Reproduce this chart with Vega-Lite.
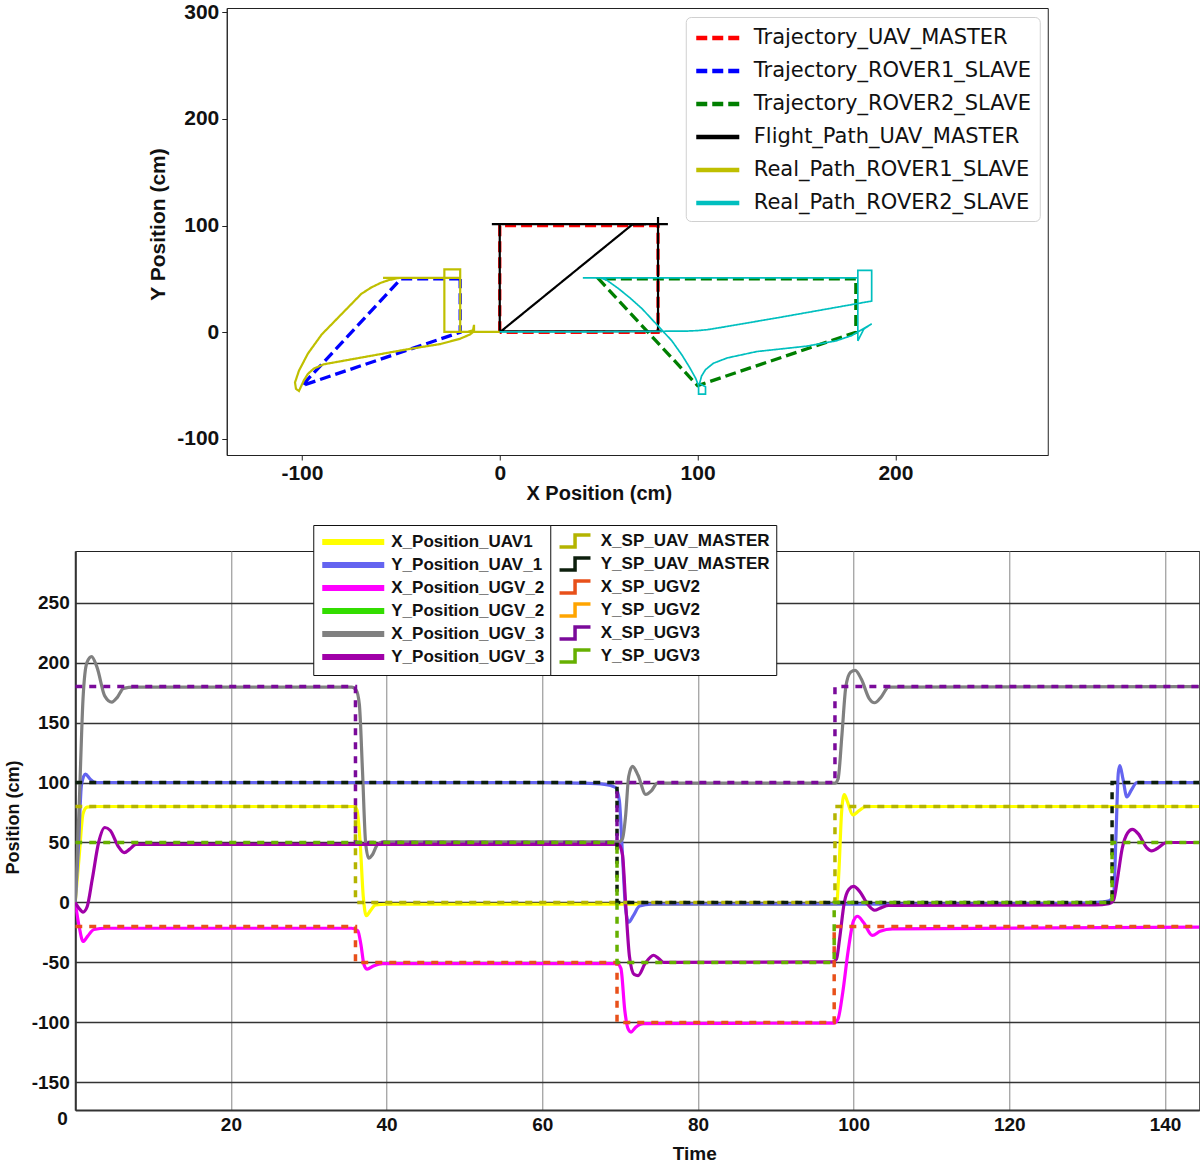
{
  "$schema": "https://vega.github.io/schema/vega-lite/v6.json",
  "padding": {"left": 3, "top": 0, "right": 0, "bottom": 0},
  "background": "white",
  "center": true,
  "spacing": 20,
  "resolve": {"scale": {"color": "independent", "stroke": "independent", "strokeDash": "independent"}, "legend": {"color": "independent", "stroke": "independent", "strokeDash": "independent"}},
  "config": {"view": {"stroke": "#222", "strokeWidth": 1}},
  "datasets": {
    "xy": [
      {"s": "Trajectory_UAV_MASTER", "i": 0, "x": 0, "y": 0},
      {"s": "Trajectory_UAV_MASTER", "i": 1, "x": 0, "y": 100},
      {"s": "Trajectory_UAV_MASTER", "i": 2, "x": 80, "y": 100},
      {"s": "Trajectory_UAV_MASTER", "i": 3, "x": 80, "y": 0},
      {"s": "Trajectory_UAV_MASTER", "i": 4, "x": 0, "y": 0},
      {"s": "Trajectory_ROVER1_SLAVE", "i": 0, "x": -20, "y": 50},
      {"s": "Trajectory_ROVER1_SLAVE", "i": 1, "x": -50, "y": 50},
      {"s": "Trajectory_ROVER1_SLAVE", "i": 2, "x": -100, "y": -50},
      {"s": "Trajectory_ROVER1_SLAVE", "i": 3, "x": -20, "y": 0},
      {"s": "Trajectory_ROVER1_SLAVE", "i": 4, "x": -20, "y": 50},
      {"s": "Trajectory_ROVER2_SLAVE", "i": 0, "x": 180, "y": 50},
      {"s": "Trajectory_ROVER2_SLAVE", "i": 1, "x": 50, "y": 50},
      {"s": "Trajectory_ROVER2_SLAVE", "i": 2, "x": 100, "y": -50},
      {"s": "Trajectory_ROVER2_SLAVE", "i": 3, "x": 180, "y": 0},
      {"s": "Trajectory_ROVER2_SLAVE", "i": 4, "x": 180, "y": 50},
      {"s": "Flight_Path_UAV_MASTER", "i": 0, "x": 0, "y": 0},
      {"s": "Flight_Path_UAV_MASTER", "i": 1, "x": 67, "y": 101},
      {"s": "Flight_Path_UAV_MASTER", "i": 2, "x": 80, "y": 101.5},
      {"s": "Flight_Path_UAV_MASTER", "i": 3, "x": 85, "y": 101.5},
      {"s": "Flight_Path_UAV_MASTER", "i": 4, "x": 80, "y": 101.5},
      {"s": "Flight_Path_UAV_MASTER", "i": 5, "x": 0, "y": 101.5},
      {"s": "Flight_Path_UAV_MASTER", "i": 6, "x": -4, "y": 101.5},
      {"s": "Flight_Path_UAV_MASTER", "i": 7, "x": 0, "y": 101.5},
      {"s": "Flight_Path_UAV_MASTER", "i": 8, "x": 0, "y": 1},
      {"s": "Flight_Path_UAV_MASTER", "i": 9, "x": 82, "y": 1},
      {"s": "Flight_Path_UAV_MASTER", "i": 10, "x": 80, "y": 1},
      {"s": "Flight_Path_UAV_MASTER", "i": 11, "x": 80, "y": 108},
      {"s": "Flight_Path_UAV_MASTER", "i": 12, "x": 80, "y": 101.5},
      {"s": "Real_Path_ROVER1_SLAVE", "i": 0, "x": 0, "y": 0.5},
      {"s": "Real_Path_ROVER1_SLAVE", "i": 1, "x": -13, "y": 0.5},
      {"s": "Real_Path_ROVER1_SLAVE", "i": 2, "x": -28, "y": 0.5},
      {"s": "Real_Path_ROVER1_SLAVE", "i": 3, "x": -28, "y": 59},
      {"s": "Real_Path_ROVER1_SLAVE", "i": 4, "x": -20, "y": 59},
      {"s": "Real_Path_ROVER1_SLAVE", "i": 5, "x": -20, "y": 51},
      {"s": "Real_Path_ROVER1_SLAVE", "i": 6, "x": -59, "y": 51},
      {"s": "Real_Path_ROVER1_SLAVE", "i": 7, "x": -51, "y": 51},
      {"s": "Real_Path_ROVER1_SLAVE", "i": 8, "x": -56, "y": 49},
      {"s": "Real_Path_ROVER1_SLAVE", "i": 9, "x": -60, "y": 46.5},
      {"s": "Real_Path_ROVER1_SLAVE", "i": 10, "x": -65, "y": 42},
      {"s": "Real_Path_ROVER1_SLAVE", "i": 11, "x": -70, "y": 36},
      {"s": "Real_Path_ROVER1_SLAVE", "i": 12, "x": -80, "y": 17},
      {"s": "Real_Path_ROVER1_SLAVE", "i": 13, "x": -90, "y": -2},
      {"s": "Real_Path_ROVER1_SLAVE", "i": 14, "x": -97, "y": -20},
      {"s": "Real_Path_ROVER1_SLAVE", "i": 15, "x": -101.5, "y": -36},
      {"s": "Real_Path_ROVER1_SLAVE", "i": 16, "x": -103.5, "y": -47},
      {"s": "Real_Path_ROVER1_SLAVE", "i": 17, "x": -103, "y": -53},
      {"s": "Real_Path_ROVER1_SLAVE", "i": 18, "x": -101.5, "y": -55},
      {"s": "Real_Path_ROVER1_SLAVE", "i": 19, "x": -100.5, "y": -51},
      {"s": "Real_Path_ROVER1_SLAVE", "i": 20, "x": -99, "y": -45},
      {"s": "Real_Path_ROVER1_SLAVE", "i": 21, "x": -97, "y": -39},
      {"s": "Real_Path_ROVER1_SLAVE", "i": 22, "x": -94, "y": -34},
      {"s": "Real_Path_ROVER1_SLAVE", "i": 23, "x": -89, "y": -30},
      {"s": "Real_Path_ROVER1_SLAVE", "i": 24, "x": -80, "y": -27},
      {"s": "Real_Path_ROVER1_SLAVE", "i": 25, "x": -65, "y": -22},
      {"s": "Real_Path_ROVER1_SLAVE", "i": 26, "x": -47, "y": -16},
      {"s": "Real_Path_ROVER1_SLAVE", "i": 27, "x": -30, "y": -11},
      {"s": "Real_Path_ROVER1_SLAVE", "i": 28, "x": -20, "y": -6},
      {"s": "Real_Path_ROVER1_SLAVE", "i": 29, "x": -15, "y": -2},
      {"s": "Real_Path_ROVER1_SLAVE", "i": 30, "x": -13, "y": 1},
      {"s": "Real_Path_ROVER1_SLAVE", "i": 31, "x": -13, "y": 7},
      {"s": "Real_Path_ROVER1_SLAVE", "i": 32, "x": -13.5, "y": 2},
      {"s": "Real_Path_ROVER1_SLAVE", "i": 33, "x": -16, "y": 0.5},
      {"s": "Real_Path_ROVER1_SLAVE", "i": 34, "x": -20, "y": 0.5},
      {"s": "Real_Path_ROVER1_SLAVE", "i": 35, "x": -20, "y": 30},
      {"s": "Real_Path_ROVER1_SLAVE", "i": 36, "x": -20, "y": 59},
      {"s": "Real_Path_ROVER1_SLAVE", "i": 37, "x": -20, "y": 51},
      {"s": "Real_Path_ROVER2_SLAVE", "i": 0, "x": 0, "y": 0.5},
      {"s": "Real_Path_ROVER2_SLAVE", "i": 1, "x": 50, "y": 0.5},
      {"s": "Real_Path_ROVER2_SLAVE", "i": 2, "x": 82, "y": 1},
      {"s": "Real_Path_ROVER2_SLAVE", "i": 3, "x": 95, "y": 1.2},
      {"s": "Real_Path_ROVER2_SLAVE", "i": 4, "x": 100, "y": 1.6},
      {"s": "Real_Path_ROVER2_SLAVE", "i": 5, "x": 105, "y": 2.5},
      {"s": "Real_Path_ROVER2_SLAVE", "i": 6, "x": 112, "y": 4.6},
      {"s": "Real_Path_ROVER2_SLAVE", "i": 7, "x": 140, "y": 13.5},
      {"s": "Real_Path_ROVER2_SLAVE", "i": 8, "x": 181, "y": 27},
      {"s": "Real_Path_ROVER2_SLAVE", "i": 9, "x": 188, "y": 29.3},
      {"s": "Real_Path_ROVER2_SLAVE", "i": 10, "x": 188, "y": 58},
      {"s": "Real_Path_ROVER2_SLAVE", "i": 11, "x": 181, "y": 58},
      {"s": "Real_Path_ROVER2_SLAVE", "i": 12, "x": 181, "y": 51},
      {"s": "Real_Path_ROVER2_SLAVE", "i": 13, "x": 42, "y": 51},
      {"s": "Real_Path_ROVER2_SLAVE", "i": 14, "x": 51, "y": 51},
      {"s": "Real_Path_ROVER2_SLAVE", "i": 15, "x": 54, "y": 49},
      {"s": "Real_Path_ROVER2_SLAVE", "i": 16, "x": 60, "y": 41},
      {"s": "Real_Path_ROVER2_SLAVE", "i": 17, "x": 66, "y": 32},
      {"s": "Real_Path_ROVER2_SLAVE", "i": 18, "x": 72, "y": 22},
      {"s": "Real_Path_ROVER2_SLAVE", "i": 19, "x": 80, "y": 6},
      {"s": "Real_Path_ROVER2_SLAVE", "i": 20, "x": 87, "y": -8},
      {"s": "Real_Path_ROVER2_SLAVE", "i": 21, "x": 92, "y": -21},
      {"s": "Real_Path_ROVER2_SLAVE", "i": 22, "x": 96, "y": -33},
      {"s": "Real_Path_ROVER2_SLAVE", "i": 23, "x": 99, "y": -43},
      {"s": "Real_Path_ROVER2_SLAVE", "i": 24, "x": 100.5, "y": -50},
      {"s": "Real_Path_ROVER2_SLAVE", "i": 25, "x": 100.5, "y": -58},
      {"s": "Real_Path_ROVER2_SLAVE", "i": 26, "x": 104, "y": -58},
      {"s": "Real_Path_ROVER2_SLAVE", "i": 27, "x": 104, "y": -51},
      {"s": "Real_Path_ROVER2_SLAVE", "i": 28, "x": 101, "y": -48},
      {"s": "Real_Path_ROVER2_SLAVE", "i": 29, "x": 102, "y": -41},
      {"s": "Real_Path_ROVER2_SLAVE", "i": 30, "x": 104, "y": -35},
      {"s": "Real_Path_ROVER2_SLAVE", "i": 31, "x": 108, "y": -29},
      {"s": "Real_Path_ROVER2_SLAVE", "i": 32, "x": 115, "y": -24},
      {"s": "Real_Path_ROVER2_SLAVE", "i": 33, "x": 130, "y": -18},
      {"s": "Real_Path_ROVER2_SLAVE", "i": 34, "x": 155, "y": -13},
      {"s": "Real_Path_ROVER2_SLAVE", "i": 35, "x": 170, "y": -8},
      {"s": "Real_Path_ROVER2_SLAVE", "i": 36, "x": 178, "y": -3},
      {"s": "Real_Path_ROVER2_SLAVE", "i": 37, "x": 188, "y": 8},
      {"s": "Real_Path_ROVER2_SLAVE", "i": 38, "x": 184, "y": 3},
      {"s": "Real_Path_ROVER2_SLAVE", "i": 39, "x": 181, "y": -8},
      {"s": "Real_Path_ROVER2_SLAVE", "i": 40, "x": 181, "y": 20},
      {"s": "Real_Path_ROVER2_SLAVE", "i": 41, "x": 181, "y": 51}
    ],
    "ts": [
      {"s": "X_Position_UAV1", "t": 0, "v": 0},
      {"s": "X_Position_UAV1", "t": 0.5, "v": 38},
      {"s": "X_Position_UAV1", "t": 1.0, "v": 74},
      {"s": "X_Position_UAV1", "t": 1.5, "v": 79.5},
      {"s": "X_Position_UAV1", "t": 2.5, "v": 80},
      {"s": "X_Position_UAV1", "t": 35.8, "v": 80},
      {"s": "X_Position_UAV1", "t": 36.2, "v": 77},
      {"s": "X_Position_UAV1", "t": 36.6, "v": 50},
      {"s": "X_Position_UAV1", "t": 37.0, "v": 5},
      {"s": "X_Position_UAV1", "t": 37.4, "v": -11},
      {"s": "X_Position_UAV1", "t": 37.9, "v": -7},
      {"s": "X_Position_UAV1", "t": 38.6, "v": -2},
      {"s": "X_Position_UAV1", "t": 40, "v": -1.5},
      {"s": "X_Position_UAV1", "t": 97.8, "v": -1.5},
      {"s": "X_Position_UAV1", "t": 98.1, "v": 25},
      {"s": "X_Position_UAV1", "t": 98.45, "v": 75},
      {"s": "X_Position_UAV1", "t": 98.8, "v": 90},
      {"s": "X_Position_UAV1", "t": 99.2, "v": 84},
      {"s": "X_Position_UAV1", "t": 99.9, "v": 73},
      {"s": "X_Position_UAV1", "t": 100.7, "v": 76.5},
      {"s": "X_Position_UAV1", "t": 101.6, "v": 80},
      {"s": "X_Position_UAV1", "t": 144.4, "v": 80},
      {"s": "Y_Position_UAV_1", "t": 0, "v": 0},
      {"s": "Y_Position_UAV_1", "t": 0.4, "v": 45},
      {"s": "Y_Position_UAV_1", "t": 0.8, "v": 98},
      {"s": "Y_Position_UAV_1", "t": 1.3, "v": 107},
      {"s": "Y_Position_UAV_1", "t": 1.9, "v": 103},
      {"s": "Y_Position_UAV_1", "t": 2.6, "v": 100},
      {"s": "Y_Position_UAV_1", "t": 60, "v": 100},
      {"s": "Y_Position_UAV_1", "t": 65, "v": 99.5},
      {"s": "Y_Position_UAV_1", "t": 68, "v": 98.5},
      {"s": "Y_Position_UAV_1", "t": 69.4, "v": 96},
      {"s": "Y_Position_UAV_1", "t": 69.9, "v": 85},
      {"s": "Y_Position_UAV_1", "t": 70.3, "v": 40},
      {"s": "Y_Position_UAV_1", "t": 70.7, "v": -5},
      {"s": "Y_Position_UAV_1", "t": 71.1, "v": -16.5},
      {"s": "Y_Position_UAV_1", "t": 71.7, "v": -11},
      {"s": "Y_Position_UAV_1", "t": 72.5, "v": -3},
      {"s": "Y_Position_UAV_1", "t": 74, "v": -1.5},
      {"s": "Y_Position_UAV_1", "t": 100, "v": -1.5},
      {"s": "Y_Position_UAV_1", "t": 127, "v": -1},
      {"s": "Y_Position_UAV_1", "t": 131, "v": 0},
      {"s": "Y_Position_UAV_1", "t": 132.8, "v": 1.5},
      {"s": "Y_Position_UAV_1", "t": 133.4, "v": 6},
      {"s": "Y_Position_UAV_1", "t": 133.7, "v": 55},
      {"s": "Y_Position_UAV_1", "t": 134.0, "v": 108},
      {"s": "Y_Position_UAV_1", "t": 134.2, "v": 114},
      {"s": "Y_Position_UAV_1", "t": 134.6, "v": 103},
      {"s": "Y_Position_UAV_1", "t": 135.1, "v": 88},
      {"s": "Y_Position_UAV_1", "t": 135.7, "v": 94},
      {"s": "Y_Position_UAV_1", "t": 136.4, "v": 100},
      {"s": "Y_Position_UAV_1", "t": 144.4, "v": 100},
      {"s": "X_Position_UGV_2", "t": 0, "v": 0},
      {"s": "X_Position_UGV_2", "t": 0.5, "v": -20},
      {"s": "X_Position_UGV_2", "t": 1.0, "v": -32.5},
      {"s": "X_Position_UGV_2", "t": 1.6, "v": -28},
      {"s": "X_Position_UGV_2", "t": 2.4, "v": -22.5},
      {"s": "X_Position_UGV_2", "t": 4, "v": -21.5},
      {"s": "X_Position_UGV_2", "t": 35.5, "v": -21.5},
      {"s": "X_Position_UGV_2", "t": 36.3, "v": -23.5},
      {"s": "X_Position_UGV_2", "t": 36.7, "v": -35},
      {"s": "X_Position_UGV_2", "t": 37.1, "v": -52},
      {"s": "X_Position_UGV_2", "t": 37.5, "v": -55.5},
      {"s": "X_Position_UGV_2", "t": 38.3, "v": -53},
      {"s": "X_Position_UGV_2", "t": 39.5, "v": -51},
      {"s": "X_Position_UGV_2", "t": 69.6, "v": -51},
      {"s": "X_Position_UGV_2", "t": 70.1, "v": -55},
      {"s": "X_Position_UGV_2", "t": 70.6, "v": -90},
      {"s": "X_Position_UGV_2", "t": 71.0, "v": -105},
      {"s": "X_Position_UGV_2", "t": 71.4, "v": -108},
      {"s": "X_Position_UGV_2", "t": 72.0, "v": -104},
      {"s": "X_Position_UGV_2", "t": 73, "v": -101},
      {"s": "X_Position_UGV_2", "t": 97.5, "v": -100.5},
      {"s": "X_Position_UGV_2", "t": 98.0, "v": -97},
      {"s": "X_Position_UGV_2", "t": 98.6, "v": -75},
      {"s": "X_Position_UGV_2", "t": 99.3, "v": -40},
      {"s": "X_Position_UGV_2", "t": 100.0, "v": -15},
      {"s": "X_Position_UGV_2", "t": 100.5, "v": -11.5},
      {"s": "X_Position_UGV_2", "t": 101.3, "v": -17},
      {"s": "X_Position_UGV_2", "t": 102.4, "v": -27.5},
      {"s": "X_Position_UGV_2", "t": 103.4, "v": -24},
      {"s": "X_Position_UGV_2", "t": 105, "v": -22},
      {"s": "X_Position_UGV_2", "t": 144.4, "v": -20.5},
      {"s": "X_Position_UGV_3", "t": 0, "v": 0},
      {"s": "X_Position_UGV_3", "t": 0.5, "v": 80},
      {"s": "X_Position_UGV_3", "t": 1.0, "v": 170},
      {"s": "X_Position_UGV_3", "t": 1.5, "v": 200},
      {"s": "X_Position_UGV_3", "t": 2.1, "v": 205},
      {"s": "X_Position_UGV_3", "t": 2.8, "v": 196},
      {"s": "X_Position_UGV_3", "t": 3.8, "v": 172},
      {"s": "X_Position_UGV_3", "t": 4.7, "v": 167},
      {"s": "X_Position_UGV_3", "t": 5.4, "v": 171},
      {"s": "X_Position_UGV_3", "t": 6.2, "v": 178.5},
      {"s": "X_Position_UGV_3", "t": 7.5, "v": 179.5},
      {"s": "X_Position_UGV_3", "t": 35.5, "v": 179.5},
      {"s": "X_Position_UGV_3", "t": 36.1, "v": 177},
      {"s": "X_Position_UGV_3", "t": 36.5, "v": 165},
      {"s": "X_Position_UGV_3", "t": 36.9, "v": 110},
      {"s": "X_Position_UGV_3", "t": 37.3, "v": 50},
      {"s": "X_Position_UGV_3", "t": 37.7, "v": 37},
      {"s": "X_Position_UGV_3", "t": 38.2, "v": 40},
      {"s": "X_Position_UGV_3", "t": 38.8, "v": 48},
      {"s": "X_Position_UGV_3", "t": 39.6, "v": 50.5},
      {"s": "X_Position_UGV_3", "t": 69.8, "v": 50.5},
      {"s": "X_Position_UGV_3", "t": 70.3, "v": 53},
      {"s": "X_Position_UGV_3", "t": 70.7, "v": 72},
      {"s": "X_Position_UGV_3", "t": 71.1, "v": 105},
      {"s": "X_Position_UGV_3", "t": 71.6, "v": 113.5},
      {"s": "X_Position_UGV_3", "t": 72.3, "v": 106},
      {"s": "X_Position_UGV_3", "t": 73.3, "v": 90},
      {"s": "X_Position_UGV_3", "t": 74.0, "v": 93},
      {"s": "X_Position_UGV_3", "t": 74.8, "v": 99.5},
      {"s": "X_Position_UGV_3", "t": 97.6, "v": 99.5},
      {"s": "X_Position_UGV_3", "t": 98.0, "v": 103},
      {"s": "X_Position_UGV_3", "t": 98.5, "v": 140},
      {"s": "X_Position_UGV_3", "t": 99.0, "v": 180},
      {"s": "X_Position_UGV_3", "t": 99.6, "v": 192},
      {"s": "X_Position_UGV_3", "t": 100.2, "v": 193.5},
      {"s": "X_Position_UGV_3", "t": 101, "v": 186},
      {"s": "X_Position_UGV_3", "t": 102.0, "v": 170},
      {"s": "X_Position_UGV_3", "t": 102.7, "v": 166.5},
      {"s": "X_Position_UGV_3", "t": 103.5, "v": 171},
      {"s": "X_Position_UGV_3", "t": 104.5, "v": 179.5},
      {"s": "X_Position_UGV_3", "t": 144.4, "v": 180},
      {"s": "Y_Position_UGV_3", "t": 0, "v": 0},
      {"s": "Y_Position_UGV_3", "t": 0.5, "v": -5},
      {"s": "Y_Position_UGV_3", "t": 1.0, "v": -8},
      {"s": "Y_Position_UGV_3", "t": 1.5, "v": -4},
      {"s": "Y_Position_UGV_3", "t": 2.2, "v": 20},
      {"s": "Y_Position_UGV_3", "t": 3.0, "v": 50},
      {"s": "Y_Position_UGV_3", "t": 3.8, "v": 62.5},
      {"s": "Y_Position_UGV_3", "t": 4.5, "v": 60},
      {"s": "Y_Position_UGV_3", "t": 5.5, "v": 47},
      {"s": "Y_Position_UGV_3", "t": 6.3, "v": 41.5},
      {"s": "Y_Position_UGV_3", "t": 7.0, "v": 44.5},
      {"s": "Y_Position_UGV_3", "t": 7.8, "v": 48.5},
      {"s": "Y_Position_UGV_3", "t": 36, "v": 48.5},
      {"s": "Y_Position_UGV_3", "t": 69.8, "v": 48.5},
      {"s": "Y_Position_UGV_3", "t": 70.3, "v": 40},
      {"s": "Y_Position_UGV_3", "t": 70.7, "v": 0},
      {"s": "Y_Position_UGV_3", "t": 71.2, "v": -45},
      {"s": "Y_Position_UGV_3", "t": 71.8, "v": -60},
      {"s": "Y_Position_UGV_3", "t": 72.3, "v": -61},
      {"s": "Y_Position_UGV_3", "t": 73.2, "v": -51},
      {"s": "Y_Position_UGV_3", "t": 74.3, "v": -44},
      {"s": "Y_Position_UGV_3", "t": 75.0, "v": -47},
      {"s": "Y_Position_UGV_3", "t": 75.6, "v": -50},
      {"s": "Y_Position_UGV_3", "t": 97.3, "v": -49.5},
      {"s": "Y_Position_UGV_3", "t": 97.8, "v": -47},
      {"s": "Y_Position_UGV_3", "t": 98.2, "v": -30},
      {"s": "Y_Position_UGV_3", "t": 98.8, "v": 0},
      {"s": "Y_Position_UGV_3", "t": 99.4, "v": 11},
      {"s": "Y_Position_UGV_3", "t": 100, "v": 13.4},
      {"s": "Y_Position_UGV_3", "t": 100.8, "v": 9},
      {"s": "Y_Position_UGV_3", "t": 101.8, "v": -1.5},
      {"s": "Y_Position_UGV_3", "t": 102.7, "v": -6.5},
      {"s": "Y_Position_UGV_3", "t": 103.5, "v": -4.5},
      {"s": "Y_Position_UGV_3", "t": 104.5, "v": -2.5},
      {"s": "Y_Position_UGV_3", "t": 131, "v": -2},
      {"s": "Y_Position_UGV_3", "t": 132.8, "v": -1},
      {"s": "Y_Position_UGV_3", "t": 133.4, "v": 2},
      {"s": "Y_Position_UGV_3", "t": 133.9, "v": 20},
      {"s": "Y_Position_UGV_3", "t": 134.5, "v": 45},
      {"s": "Y_Position_UGV_3", "t": 135.2, "v": 58},
      {"s": "Y_Position_UGV_3", "t": 135.8, "v": 61},
      {"s": "Y_Position_UGV_3", "t": 136.6, "v": 57},
      {"s": "Y_Position_UGV_3", "t": 137.6, "v": 46},
      {"s": "Y_Position_UGV_3", "t": 138.3, "v": 43},
      {"s": "Y_Position_UGV_3", "t": 139.0, "v": 45},
      {"s": "Y_Position_UGV_3", "t": 140.2, "v": 50},
      {"s": "Y_Position_UGV_3", "t": 144.4, "v": 50}
    ],
    "sp": [
      {"s": "X_SP_UAV_MASTER", "t": 0, "v": 80},
      {"s": "X_SP_UAV_MASTER", "t": 36, "v": 0},
      {"s": "X_SP_UAV_MASTER", "t": 97.6, "v": 80},
      {"s": "X_SP_UAV_MASTER", "t": 144.4, "v": 80},
      {"s": "Y_SP_UAV_MASTER", "t": 0, "v": 100},
      {"s": "Y_SP_UAV_MASTER", "t": 69.6, "v": 0},
      {"s": "Y_SP_UAV_MASTER", "t": 133.2, "v": 100},
      {"s": "Y_SP_UAV_MASTER", "t": 144.4, "v": 100},
      {"s": "X_SP_UGV2", "t": 0, "v": -20},
      {"s": "X_SP_UGV2", "t": 36, "v": -50},
      {"s": "X_SP_UGV2", "t": 69.6, "v": -100},
      {"s": "X_SP_UGV2", "t": 97.5, "v": -20},
      {"s": "X_SP_UGV2", "t": 144.4, "v": -20},
      {"s": "X_SP_UGV3", "t": 0, "v": 180},
      {"s": "X_SP_UGV3", "t": 36, "v": 50},
      {"s": "X_SP_UGV3", "t": 69.6, "v": 100},
      {"s": "X_SP_UGV3", "t": 97.6, "v": 180},
      {"s": "X_SP_UGV3", "t": 144.4, "v": 180},
      {"s": "Y_SP_UGV3", "t": 0, "v": 50},
      {"s": "Y_SP_UGV3", "t": 69.6, "v": -50},
      {"s": "Y_SP_UGV3", "t": 97.5, "v": 0},
      {"s": "Y_SP_UGV3", "t": 133.2, "v": 50},
      {"s": "Y_SP_UGV3", "t": 144.4, "v": 50}
    ]
  },
  "vconcat": [
    {
      "width": 821,
      "height": 447,
      "data": {"name": "xy"},
      "encoding": {
        "x": {
          "field": "x", "type": "quantitative",
          "scale": {"domain": [-138, 277], "nice": false, "zero": false},
          "axis": {
            "title": "X Position (cm)", "values": [-100, 0, 100, 200], "grid": false,
            "labelExpr": "replace(datum.label, '\u2212', '-')",
            "labelFont": "Liberation Sans", "labelFontSize": 21, "labelFontWeight": "bold", "labelColor": "#111",
            "labelPadding": 2, "tickColor": "#222", "tickSize": 5, "domainColor": "#222",
            "titleFont": "Liberation Sans", "titleFontSize": 20, "titleFontWeight": "bold", "titleColor": "#111",
            "titlePadding": 0, "titleX": 372
          }
        },
        "y": {
          "field": "y", "type": "quantitative",
          "scale": {"domain": [-115, 304], "nice": false, "zero": false},
          "axis": {
            "title": "Y Position (cm)", "values": [-100, 0, 100, 200, 300], "grid": false,
            "labelExpr": "replace(datum.label, '\u2212', '-')",
            "labelFont": "Liberation Sans", "labelFontSize": 21, "labelFontWeight": "bold", "labelColor": "#111",
            "labelPadding": 3, "tickColor": "#222", "tickSize": 5, "domainColor": "#222",
            "titleFont": "Liberation Sans", "titleFontSize": 21, "titleFontWeight": "bold", "titleColor": "#111",
            "titlePadding": 8, "titleY": 216
          }
        },
        "color": {
          "field": "s", "type": "nominal",
          "scale": {
            "domain": ["Trajectory_UAV_MASTER", "Trajectory_ROVER1_SLAVE", "Trajectory_ROVER2_SLAVE", "Flight_Path_UAV_MASTER", "Real_Path_ROVER1_SLAVE", "Real_Path_ROVER2_SLAVE"],
            "range": ["#ff0000", "#0000ff", "#007f00", "#000000", "#bfbf00", "#00bfbf"]
          },
          "legend": {
            "title": null, "orient": "none", "legendX": 459, "legendY": 9,
            "symbolType": "M-1,0L3.1,0", "symbolSize": 441, "symbolStrokeWidth": 4.5,
            "labelFont": "DejaVu Sans", "labelFontSize": 21, "labelColor": "#111", "labelOffset": 34, "labelLimit": 400,
            "rowPadding": 10, "padding": 8, "fillColor": "white", "strokeColor": "#d0d0d0", "cornerRadius": 5
          }
        },
        "strokeDash": {
          "field": "s", "type": "nominal",
          "scale": {
            "domain": ["Trajectory_UAV_MASTER", "Trajectory_ROVER1_SLAVE", "Trajectory_ROVER2_SLAVE", "Flight_Path_UAV_MASTER", "Real_Path_ROVER1_SLAVE", "Real_Path_ROVER2_SLAVE"],
            "range": [[11, 5], [11, 5], [11, 5], [1, 0], [1, 0], [1, 0]]
          },
          "legend": {
            "title": null, "orient": "none", "legendX": 459, "legendY": 9,
            "symbolType": "M-1,0L3.1,0", "symbolSize": 441, "symbolStrokeWidth": 4.5,
            "labelFont": "DejaVu Sans", "labelFontSize": 21, "labelColor": "#111", "labelOffset": 34, "labelLimit": 400,
            "rowPadding": 10, "padding": 8, "fillColor": "white", "strokeColor": "#d0d0d0", "cornerRadius": 5
          }
        },
        "order": {"field": "i", "type": "quantitative"}
      },
      "layer": [
        {
          "transform": [{"filter": {"field": "s", "oneOf": ["Trajectory_UAV_MASTER", "Trajectory_ROVER1_SLAVE", "Trajectory_ROVER2_SLAVE"]}}],
          "mark": {"type": "line", "clip": true, "strokeWidth": 3.3}
        },
        {
          "transform": [{"filter": {"field": "s", "oneOf": ["Flight_Path_UAV_MASTER", "Real_Path_ROVER1_SLAVE"]}}],
          "mark": {"type": "line", "clip": true, "strokeWidth": 2.2}
        },
        {
          "transform": [{"filter": {"field": "s", "oneOf": ["Real_Path_ROVER2_SLAVE"]}}],
          "mark": {"type": "line", "clip": true, "strokeWidth": 1.7}
        }
      ]
    },
    {
      "width": 1124,
      "height": 559,
      "encoding": {
        "x": {
          "field": "t", "type": "quantitative",
          "scale": {"domain": [0, 144.4], "nice": false, "zero": false},
          "axis": {
            "title": "Time", "values": [0, 20, 40, 60, 80, 100, 120, 140],
            "grid": true, "gridColor": "#9a9a9a", "gridWidth": 1.2, "ticks": false,
            "labelFont": "Liberation Sans", "labelFontSize": 19, "labelFontWeight": "bold", "labelColor": "#111",
            "labelPadding": {"condition": {"test": "datum.value == 0", "value": -1}, "value": 5},
            "labelAlign": {"condition": {"test": "datum.value == 0", "value": "right"}, "value": "center"},
            "labelOffset": {"condition": {"test": "datum.value == 0", "value": -8}, "value": 0},
            "domainColor": "#333", "domainWidth": 2,
            "titleFont": "Liberation Sans", "titleFontSize": 19, "titleFontWeight": "bold", "titleColor": "#111",
            "titlePadding": 10, "titleX": 619
          }
        },
        "y": {
          "field": "v", "type": "quantitative",
          "scale": {"domain": [-173, 293], "nice": false, "zero": false},
          "axis": {
            "title": "Position (cm)", "values": [-150, -100, -50, 0, 50, 100, 150, 200, 250],
            "grid": true, "gridColor": "#333", "gridWidth": 1.5, "ticks": false,
            "labelExpr": "replace(datum.label, '\u2212', '-')",
            "labelFont": "Liberation Sans", "labelFontSize": 19, "labelFontWeight": "bold", "labelColor": "#111",
            "labelPadding": 6, "domainColor": "#333", "domainWidth": 2,
            "titleFont": "Liberation Sans", "titleFontSize": 18, "titleFontWeight": "bold", "titleColor": "#111",
            "titlePadding": 9, "titleY": 266
          }
        }
      },
      "layer": [
        {
          "data": {"name": "ts"},
          "mark": {"type": "line", "interpolate": "monotone", "strokeWidth": 3.2, "clip": true},
          "encoding": {
            "color": {
              "field": "s", "type": "nominal",
              "scale": {
                "domain": ["X_Position_UAV1", "Y_Position_UAV_1", "X_Position_UGV_2", "Y_Position_UGV_2", "X_Position_UGV_3", "Y_Position_UGV_3"],
                "range": ["#ffff00", "#6464f0", "#ff00ff", "#33dd00", "#808080", "#a000a8"]
              },
              "legend": {
                "title": null, "orient": "none", "legendX": 238, "legendY": -26,
                "symbolType": "M-1,0L6.75,0", "symbolSize": 256, "symbolStrokeWidth": 6,
                "labelFont": "Liberation Sans", "labelFontSize": 17, "labelFontWeight": "bold", "labelColor": "#111",
                "labelOffset": 50, "labelLimit": 400, "rowPadding": -1.4, "padding": 6,
                "fillColor": "white", "strokeColor": "#111", "cornerRadius": 0
              }
            }
          }
        },
        {
          "data": {"name": "sp"},
          "mark": {"type": "line", "interpolate": "step-after", "strokeWidth": 3.5, "strokeDash": [7, 7], "clip": true},
          "encoding": {
            "stroke": {
              "field": "s", "type": "nominal",
              "scale": {
                "domain": ["X_SP_UAV_MASTER", "Y_SP_UAV_MASTER", "X_SP_UGV2", "Y_SP_UGV2", "X_SP_UGV3", "Y_SP_UGV3"],
                "range": ["#b4b400", "#0d1f0d", "#e8501a", "#ffa500", "#7a0a9a", "#66b000"]
              },
              "legend": {
                "title": null, "orient": "none", "legendX": 475, "legendY": -26,
                "symbolType": "M-0.84,0.75L1.1,0.75L1.1,-0.75L3.03,-0.75", "symbolSize": 256, "symbolStrokeWidth": 3.5,
                "symbolDash": [1, 0], "symbolFillColor": "transparent",
                "labelFont": "Liberation Sans", "labelFontSize": 17, "labelFontWeight": "bold", "labelColor": "#111",
                "labelOffset": 24.5, "labelLimit": 400, "rowPadding": -3.3, "padding": 6,
                "fillColor": "white", "strokeColor": "#111", "cornerRadius": 0
              }
            }
          }
        }
      ]
    }
  ]
}
